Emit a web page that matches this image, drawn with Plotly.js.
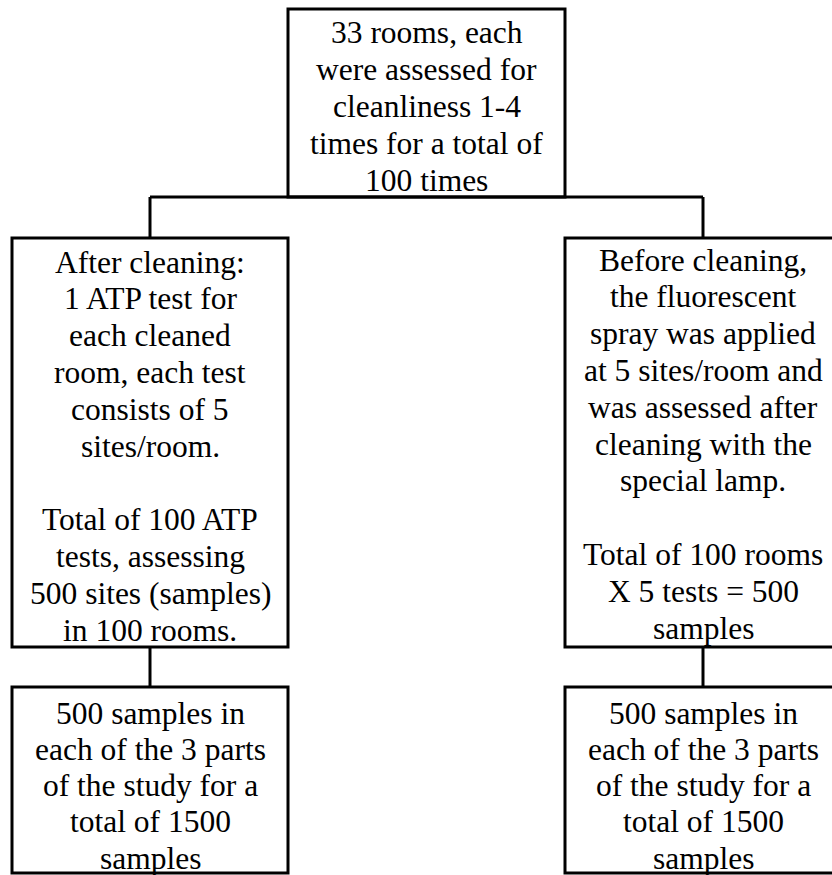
<!DOCTYPE html>
<html>
<head>
<meta charset="utf-8">
<script src="https://cdn.plot.ly/plotly-3.0.1.min.js"></script>
<style>
  html, body { margin: 0; padding: 0; background: #ffffff; }
  #chart { width: 832px; height: 875px; }
</style>
</head>
<body>
<div id="chart"></div>
<script>
// ---- Flowchart content (text of each node) ----
const topLines = ["33 rooms, each", "were assessed for", "cleanliness 1-4", "times for a total of", "100 times"];
const leftLines = ["After cleaning:", "1 ATP test for", "each cleaned", "room, each test", "consists of 5", "sites/room.", "", "Total of 100 ATP", "tests, assessing", "500 sites (samples)", "in 100 rooms."];
const rightLines = ["Before cleaning,", "the fluorescent", "spray was applied", "at 5 sites/room and", "was assessed after", "cleaning with the", "special lamp.", "", "Total of 100 rooms", "X 5 tests = 500", "samples"];
const bottomLeftLines = ["500 samples in", "each of the 3 parts", "of the study for a", "total of 1500", "samples"];
const bottomRightLines = ["500 samples in", "each of the 3 parts", "of the study for a", "total of 1500", "samples"];
const nodeTexts = [topLines, leftLines, rightLines, bottomLeftLines, bottomRightLines];

(function () {
  // ---- Layout geometry (pixel-like coordinates on a reversed y axis) ----
  const boxGeom = [
    {x0: 288, x1: 565, y0: 9,   y1: 197, cx: 426.5, firstY: 32,  step: 37.0},
    {x0: 12,  x1: 288, y0: 238, y1: 647, cx: 150,   firstY: 262, step: 36.8},
    {x0: 565, x1: 841, y0: 238, y1: 647, cx: 703,   firstY: 260, step: 36.8},
    {x0: 12,  x1: 288, y0: 687, y1: 873, cx: 150,   firstY: 713, step: 36.3},
    {x0: 565, x1: 841, y0: 687, y1: 873, cx: 703,   firstY: 713, step: 36.3}
  ];
  const links = [
    [150, 197, 703, 197],
    [150, 197, 150, 238],
    [703, 197, 703, 238],
    [150, 647, 150, 687],
    [703, 647, 703, 687]
  ];

  const shapeList = [];
  boxGeom.forEach(b => {
    shapeList.push({type: 'rect', xref: 'x', yref: 'y', x0: b.x0, x1: b.x1, y0: b.y0, y1: b.y1,
                 line: {color: '#000000', width: 3}, fillcolor: 'rgba(0,0,0,0)', layer: 'above'});
  });
  links.forEach(c => {
    shapeList.push({type: 'line', xref: 'x', yref: 'y', x0: c[0], y0: c[1], x1: c[2], y1: c[3],
                 line: {color: '#000000', width: 3}, layer: 'above'});
  });

  const annList = [];
  nodeTexts.forEach((lines, i) => {
    const b = boxGeom[i];
    lines.forEach((t, j) => {
      if (!t) return;
      annList.push({
        xref: 'x', yref: 'y', x: b.cx, y: b.firstY + j * b.step,
        text: t, showarrow: false, xanchor: 'center', yanchor: 'middle',
        font: {family: 'Liberation Serif', size: 31.5, color: '#000000'}
      });
    });
  });

  Plotly.newPlot('chart', [], {
    width: 832, height: 875,
    margin: {l: 0, r: 0, t: 0, b: 0, pad: 0},
    showlegend: false,
    xaxis: {range: [0, 832], visible: false},
    yaxis: {range: [875, 0], visible: false},
    shapes: shapeList,
    annotations: annList
  }, {staticPlot: true});
})();
</script>
</body>
</html>
